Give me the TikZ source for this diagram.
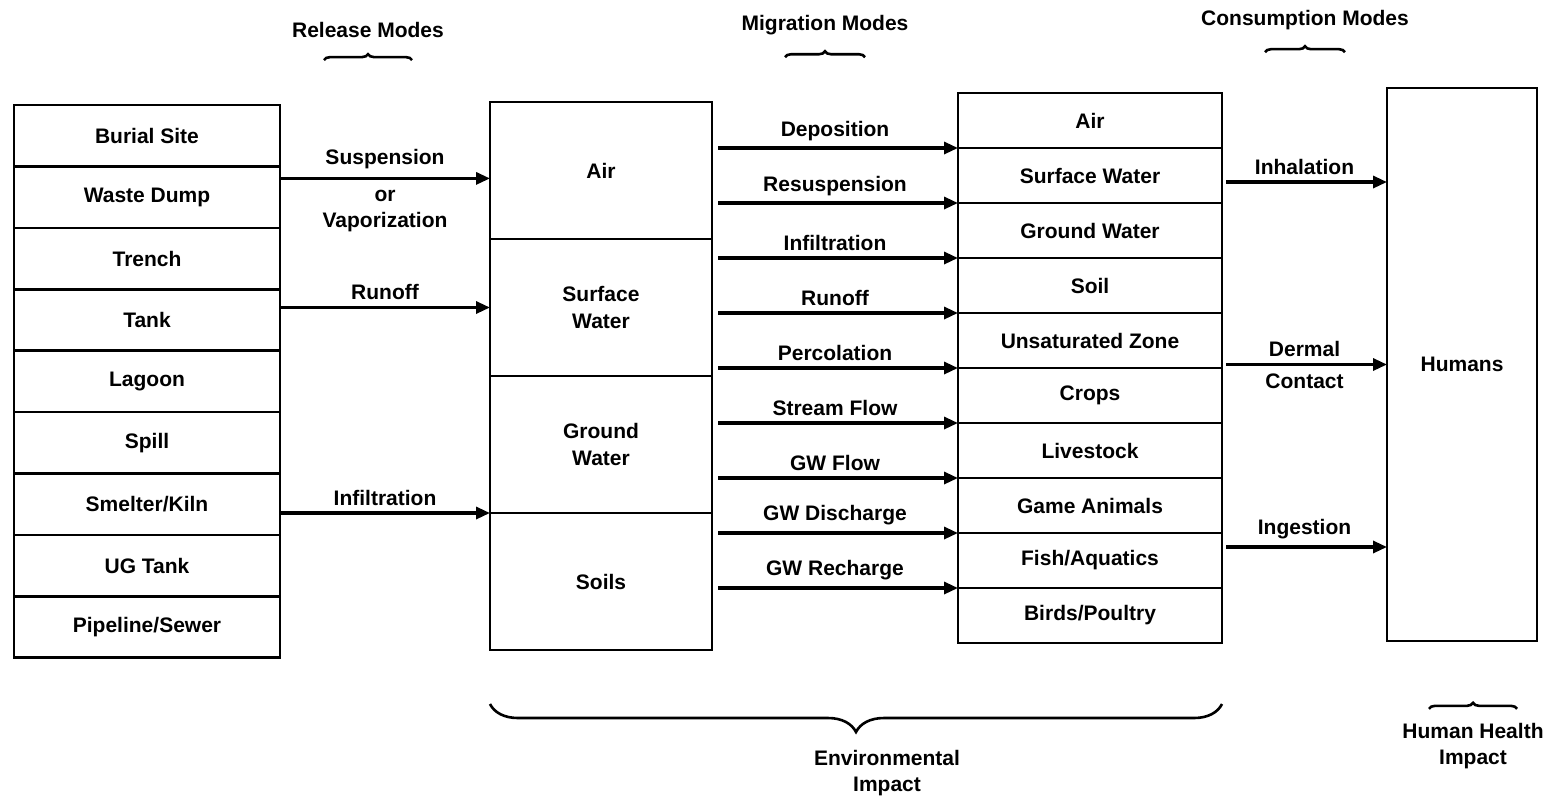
\documentclass[tikz,border=0pt]{standalone}
\usepackage{fontspec}
\setmainfont{Liberation Sans}
\usetikzlibrary{arrows.meta, positioning, calc, decorations.pathreplacing}
\tikzset{
  cell/.style={draw, rectangle, line width=1.3pt, outer sep=0pt, font=\bfseries\fontsize{10.5}{13.5}\selectfont, align=center, inner sep=1pt},
  source/.style={cell, minimum width=133pt, minimum height=30.7pt},
  medium/.style={cell, minimum width=111pt, minimum height=68.5pt},
  receptor/.style={cell, minimum width=132pt, minimum height=27.5pt},
  label/.style={font=\bfseries\fontsize{10.5}{13}\selectfont, align=center, inner sep=1pt},
  flow/.style={-{Triangle[length=7pt, width=6pt]}, line width=1.6pt},
  squiggle/.style={decorate, decoration={brace, amplitude=3pt}, line width=1.3pt},
  underbrace/.style={decorate, decoration={brace, mirror, amplitude=14pt}, line width=1.3pt},
}

\begin{document}
\begin{tikzpicture}[x=0.5pt, y=-0.5pt]
  \useasboundingbox (0,0) rectangle (1558,805);

  % sources
  \node[source, anchor=north west] (burial) at (14,105) {Burial Site};
  \node[source, below=0pt of burial] (waste) {Waste Dump};
  \node[source, below=0pt of waste] (trench) {Trench};
  \node[source, below=0pt of trench] (tank) {Tank};
  \node[source, below=0pt of tank] (lagoon) {Lagoon};
  \node[source, below=0pt of lagoon] (spill) {Spill};
  \node[source, below=0pt of spill] (smelter) {Smelter/Kiln};
  \node[source, below=0pt of smelter] (ugtank) {UG Tank};
  \node[source, below=0pt of ugtank] (pipe) {Pipeline/Sewer};

  % transport media
  \node[medium, anchor=north west] (mair) at (490,102) {Air};
  \node[medium, below=0pt of mair] (msw) {Surface\\Water};
  \node[medium, below=0pt of msw] (mgw) {Ground\\Water};
  \node[medium, below=0pt of mgw] (msoil) {Soils};

  % exposure media
  \node[receptor, anchor=north west] (rair) at (958,93) {Air};
  \node[receptor, below=0pt of rair] (rsw) {Surface Water};
  \node[receptor, below=0pt of rsw] (rgw) {Ground Water};
  \node[receptor, below=0pt of rgw] (rsoil) {Soil};
  \node[receptor, below=0pt of rsoil] (runsat) {Unsaturated Zone};
  \node[receptor, below=0pt of runsat] (rcrops) {Crops};
  \node[receptor, below=0pt of rcrops] (rlive) {Livestock};
  \node[receptor, below=0pt of rlive] (rgame) {Game Animals};
  \node[receptor, below=0pt of rgame] (rfish) {Fish/Aquatics};
  \node[receptor, below=0pt of rfish] (rbird) {Birds/Poultry};

  \node[cell, minimum width=75pt, minimum height=276.5pt, anchor=north west] (humans) at (1387,88) {Humans};

  % headings
  \node[label] (release) at (368,30) {Release Modes};
  \node[label] (migration) at (825,25) {Migration Modes};
  \node[label] (consumption) at (1305,20) {Consumption Modes};
  \draw[squiggle] ([xshift=-22pt, yshift=-10pt]release.south) -- ([xshift=22pt, yshift=-10pt]release.south);
  \draw[squiggle] ([xshift=-20pt, yshift=-10pt]migration.south) -- ([xshift=20pt, yshift=-10pt]migration.south);
  \draw[squiggle] ([xshift=-20pt, yshift=-10pt]consumption.south) -- ([xshift=20pt, yshift=-10pt]consumption.south);

  % release modes
  \draw[flow] ([yshift=-6pt]waste.north east) -- ([yshift=-6pt]waste.north east -| mair.west)
    node[label, midway, above=3pt] {Suspension}
    node[label, midway, below=4pt] {or\\Vaporization};
  \draw[flow] (tank.east |- msw.west) -- (msw.west) node[label, midway, above=2pt] {Runoff};
  \draw[flow] (ugtank.east |- mgw.south west) -- (mgw.south west) node[label, midway, above=2pt] {Infiltration};

  % migration modes
  \draw[flow, shorten <=3pt] (mair.east |- rair.south west) -- (rair.south west) node[label, midway, above=2pt] {Deposition};
  \draw[flow, shorten <=3pt] (mair.east |- rsw.south west) -- (rsw.south west) node[label, midway, above=2pt] {Resuspension};
  \draw[flow, shorten <=3pt] (mair.east |- rgw.south west) -- (rgw.south west) node[label, midway, above=2pt] {Infiltration};
  \draw[flow, shorten <=3pt] (mair.east |- rsoil.south west) -- (rsoil.south west) node[label, midway, above=2pt] {Runoff};
  \draw[flow, shorten <=3pt] (mair.east |- runsat.south west) -- (runsat.south west) node[label, midway, above=2pt] {Percolation};
  \draw[flow, shorten <=3pt] (mair.east |- rcrops.south west) -- (rcrops.south west) node[label, midway, above=2pt] {Stream Flow};
  \draw[flow, shorten <=3pt] (mair.east |- rlive.south west) -- (rlive.south west) node[label, midway, above=2pt] {GW Flow};
  \draw[flow, shorten <=3pt] (mair.east |- rgame.south west) -- (rgame.south west) node[label, midway, above=2pt] {GW Discharge};
  \draw[flow, shorten <=3pt] (mair.east |- rfish.south west) -- (rfish.south west) node[label, midway, above=2pt] {GW Recharge};

  % consumption modes
  \coordinate (inhal) at ($(humans.west)!0.66!(humans.north west)$);
  \coordinate (inges) at ($(humans.west)!0.66!(humans.south west)$);
  \draw[flow, shorten <=2pt] (rair.east |- inhal) -- (inhal) node[label, midway, above=2pt] {Inhalation};
  \draw[flow, shorten <=2pt] (rair.east |- humans.west) -- (humans.west)
    node[label, midway, above=2pt] {Dermal}
    node[label, midway, below=3pt] {Contact};
  \draw[flow, shorten <=2pt] (rair.east |- inges) -- (inges) node[label, midway, above=2pt] {Ingestion};

  % impacts
  \coordinate (envl) at ([yshift=-27pt]msoil.south west);
  \coordinate (envr) at (rbird.south east |- envl);
  \draw[underbrace] (envl) -- (envr);
  \node[label] (env) at (887,773) {Environmental\\Impact};
  \node[label] (health) at (1473,746) {Human Health\\Impact};
  \draw[squiggle] ([xshift=-22pt, yshift=6pt]health.north) -- ([xshift=22pt, yshift=6pt]health.north);
\end{tikzpicture}
\end{document}
